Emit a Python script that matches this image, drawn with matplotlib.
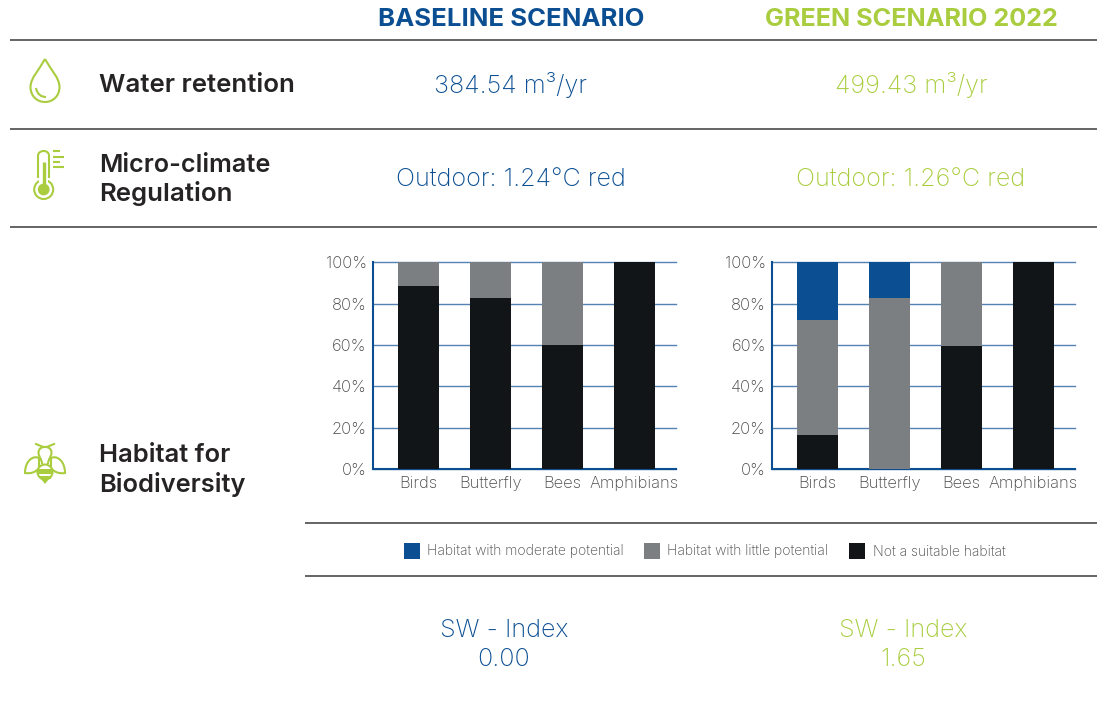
import matplotlib
matplotlib.use("Agg")
import matplotlib.pyplot as plt
from matplotlib.patches import Circle, PathPatch, Rectangle, Ellipse
from matplotlib.path import Path

plt.rcParams['font.family'] = ['Inter', 'DejaVu Sans']

W, H = 1097, 707
BLUE = "#0b4f92"
GREEN = "#a9cd3f"
GRAY = "#7c7f81"
BLACK = "#111518"
DARK = "#262324"
TICK = "#48494b"
RULE = "#3a3a3a"

# Chart data
categories = ["Birds", "Butterfly", "Bees", "Amphibians"]
y_ticks = [0, 20, 40, 60, 80, 100]
base_none = [88.6, 82.8, 60, 100]
base_little = [11.4, 17.2, 40, 0]
base_moderate = [0, 0, 0, 0]
green_none = [16.4, 0, 59.7, 100]
green_little = [55.7, 82.8, 40.3, 0]
green_moderate = [27.9, 17.2, 0, 0]

legend_labels = ["Habitat with moderate potential", "Habitat with little potential", "Not a suitable habitat"]

fig = plt.figure(figsize=(W / 100, H / 100), dpi=100, facecolor="white")

# Overlay in pixel coordinates for the table rules, text and icons
bg = fig.add_axes([0, 0, 1, 1])
bg.set_xlim(0, W)
bg.set_ylim(H, 0)
bg.axis("off")


def make_bars(left, right, x0, none, little, moderate):
    # x0 is the pixel centre of the first bar, bars are 72 px apart
    ax = fig.add_axes([left / W, 1 - 469.3 / H, (right - left) / W, (469.3 - 262.3) / H])
    ax.patch.set_alpha(0)
    x = range(len(categories))
    bottom2 = [a + b for a, b in zip(none, little)]
    ax.bar(x, none, 0.57, color=BLACK, zorder=3)
    ax.bar(x, little, 0.57, bottom=none, color=GRAY, zorder=3)
    ax.bar(x, moderate, 0.57, bottom=bottom2, color=BLUE, zorder=3)
    ax.set_xlim((left - x0) / 72, (right - x0) / 72)
    ax.set_ylim(0, 100)
    ax.set_yticks(y_ticks)
    ax.set_yticklabels([f"{t}%" for t in y_ticks], fontweight="light")
    ax.set_xticks(list(x))
    ax.set_xticklabels(categories, fontweight="light")
    ax.tick_params(length=0, labelsize=11.9, labelcolor=TICK)
    ax.tick_params(axis="y", pad=4.5)
    ax.tick_params(axis="x", pad=5)
    ax.grid(axis="y", color=BLUE, linewidth=1, alpha=0.7, zorder=1, clip_on=False)
    ax.set_axisbelow(True)
    for s in ["top", "right"]:
        ax.spines[s].set_visible(False)
    for s in ["left", "bottom"]:
        ax.spines[s].set_color(BLUE)
        ax.spines[s].set_linewidth(1.5)
    return ax


make_bars(373, 676, 418.5, base_none, base_little, base_moderate)
make_bars(772.3, 1075, 817.5, green_none, green_little, green_moderate)

# Table rules
for y, x0 in [(39.5, 10), (128.5, 10), (226.5, 10), (523, 305), (576, 305)]:
    bg.plot([x0, W], [y, y], color=RULE, linewidth=1.1, solid_capstyle="butt")

# Headers
bg.text(511.5, 20, "BASELINE SCENARIO", color=BLUE, fontsize=18.5, fontweight="bold", ha="center", va="center")
bg.text(911, 20, "GREEN SCENARIO 2022", color=GREEN, fontsize=18.2, fontweight="bold", ha="center", va="center")

# Row labels
bg.text(99, 85, "Water retention", color=DARK, fontsize=18.6, fontweight="semibold", va="center")
bg.text(99, 165, "Micro-climate", color=DARK, fontsize=18.2, fontweight="semibold", va="center")
bg.text(99, 194, "Regulation", color=DARK, fontsize=18.6, fontweight="semibold", va="center")
bg.text(99, 455.5, "Habitat for", color=DARK, fontsize=18.4, fontweight="semibold", va="center")
bg.text(99, 484.5, "Biodiversity", color=DARK, fontsize=18.3, fontweight="semibold", va="center")

# Values
val_kw = dict(fontsize=18.1, fontweight="light", ha="center", va="center")
bg.text(511, 85, "384.54 m³/yr", color=BLUE, **val_kw)
bg.text(911, 85, "499.43 m³/yr", color=GREEN, **val_kw)
bg.text(511, 180, "Outdoor: 1.24°C red", color=BLUE, **val_kw)
bg.text(911, 180, "Outdoor: 1.26°C red", color=GREEN, **val_kw)
bg.text(504, 630.5, "SW - Index", color=BLUE, **val_kw)
bg.text(504, 660, "0.00", color=BLUE, **val_kw)
bg.text(903, 630.5, "SW - Index", color=GREEN, **val_kw)
bg.text(903, 660, "1.65", color=GREEN, **val_kw)

# Legend
for sx, tx, col, lab in zip([404, 644, 849], [427, 667, 873], [BLUE, GRAY, BLACK], legend_labels):
    bg.add_patch(Rectangle((sx, 542.5), 16, 16, color=col, linewidth=0))
    bg.text(tx, 551.5, lab, color=TICK, fontsize=10, fontweight="light", va="center")

# Drop icon
lw = 1.5
drop = Path(
    [(45, 59), (39, 70), (30.5, 78), (30.5, 87), (30.5, 96), (37, 102), (45, 102),
     (53, 102), (59.5, 96), (59.5, 87), (59.5, 78), (51, 70), (45, 59)],
    [Path.MOVETO] + [Path.CURVE4] * 12,
)
bg.add_patch(PathPatch(drop, fill=False, edgecolor=GREEN, linewidth=lw))
bg.add_patch(PathPatch(Path([(36, 88), (37, 94), (41, 97), (46, 97)], [Path.MOVETO] + [Path.CURVE4] * 3),
                       fill=False, edgecolor=GREEN, linewidth=lw))

# Thermometer icon
tube = Path(
    [(38, 178), (38, 156), (38, 152.5), (41, 151), (43.7, 151), (46.5, 151), (49, 152.5), (49, 156),
     (49, 178)],
    [Path.MOVETO, Path.LINETO, Path.CURVE4, Path.CURVE4, Path.CURVE4, Path.CURVE4, Path.CURVE4, Path.CURVE4,
     Path.LINETO],
)
bg.add_patch(PathPatch(tube, fill=False, edgecolor=GREEN, linewidth=lw))
bg.add_patch(Circle((43.7, 189.5), 9.5, fill=False, edgecolor=GREEN, linewidth=lw))
bg.add_patch(Rectangle((38.8, 178), 9.4, 5, facecolor="white", edgecolor="none", zorder=3))
bg.add_patch(Circle((43.7, 189.5), 5.2, color=GREEN, zorder=4))
bg.plot([43.7, 43.7], [162, 186], color=GREEN, linewidth=2.4, solid_capstyle="butt", zorder=4)
for y, x1 in [(151, 60), (157, 64), (162, 60), (167, 64)]:
    bg.plot([53, x1], [y, y], color=GREEN, linewidth=lw, solid_capstyle="butt")

# Bee icon
for sgn in (-1, 1):
    wing = Path(
        [(45 + sgn * 6, 458), (45 + sgn * 12, 455), (45 + sgn * 20, 461), (45 + sgn * 20, 473),
         (45 + sgn * 14, 474), (45 + sgn * 9, 472), (45 + sgn * 6, 468), (45 + sgn * 6, 458)],
        [Path.MOVETO, Path.CURVE4, Path.CURVE4, Path.CURVE4, Path.CURVE4, Path.CURVE4, Path.CURVE4, Path.LINETO],
    )
    bg.add_patch(PathPatch(wing, fill=False, edgecolor=GREEN, linewidth=lw))
    bg.plot([45 + sgn * 3, 45 + sgn * 9], [446.5, 444], color=GREEN, linewidth=lw)
bulb = Path(
    [(42, 464), (42, 459), (38.5, 457), (38.5, 452.5), (38.5, 445), (51.5, 445), (51.5, 452.5),
     (51.5, 457), (48, 459), (48, 464)],
    [Path.MOVETO] + [Path.CURVE4] * 9,
)
bg.add_patch(PathPatch(bulb, fill=False, edgecolor=GREEN, linewidth=lw))
bg.add_patch(Ellipse((45, 472), 15, 15, facecolor="white", edgecolor=GREEN, linewidth=lw, zorder=3))
bg.add_patch(Rectangle((37.8, 469), 14.4, 4.5, color=GREEN, linewidth=0, zorder=4))
bg.add_patch(Rectangle((39.5, 476), 11, 2.5, color=GREEN, linewidth=0, zorder=4))
bg.add_patch(PathPatch(Path([(41, 479), (45, 484), (49, 479), (41, 479)]), color=GREEN, linewidth=0, zorder=4))

fig.savefig("out.png", dpi=100)
